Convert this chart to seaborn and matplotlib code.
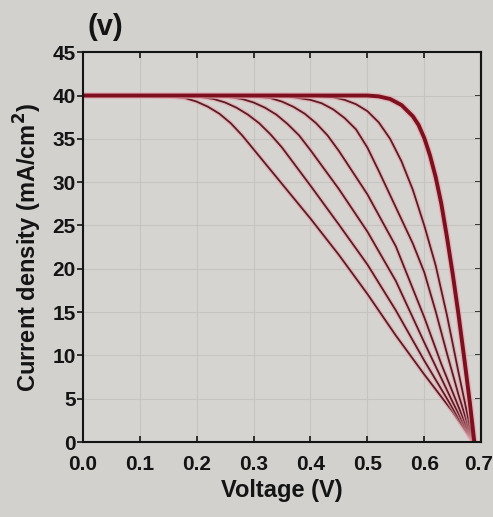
import numpy as np
import pandas as pd
import matplotlib
matplotlib.use("Agg")
import matplotlib.pyplot as plt
import matplotlib.patheffects as pe
import matplotlib.transforms as mtransforms
import seaborn as sns

# =========================
# DATOS
# =========================
v1 = [0, 0.1, 0.15, 0.18, 0.2, 0.22, 0.24, 0.26, 0.28, 0.30, 0.35, 0.40, 0.45, 0.50, 0.55, 0.60, 0.65, 0.686]
j1 = [40, 40, 39.9, 39.7, 39.3, 38.7, 37.9, 36.8, 35.4, 33.8, 29.8, 25.8, 21.6, 17.1, 12.3, 7.8, 3.5, 0]

v2 = [0, 0.1, 0.2, 0.23, 0.25, 0.27, 0.29, 0.31, 0.33, 0.35, 0.40, 0.45, 0.50, 0.55, 0.60, 0.65, 0.686]
j2 = [40, 40, 39.9, 39.6, 39.2, 38.6, 37.8, 36.8, 35.5, 34.0, 29.6, 25.1, 20.5, 15.2, 9.4, 3.9, 0]

v3 = [0, 0.1, 0.2, 0.25, 0.28, 0.30, 0.32, 0.34, 0.36, 0.38, 0.40, 0.45, 0.50, 0.55, 0.60, 0.65, 0.686]
j3 = [40, 40, 40, 39.9, 39.6, 39.2, 38.6, 37.8, 36.7, 35.4, 33.7, 29.2, 24.3, 18.6, 11.5, 4.6, 0]

v4 = [0, 0.1, 0.2, 0.3, 0.33, 0.35, 0.37, 0.39, 0.41, 0.43, 0.45, 0.50, 0.55, 0.60, 0.63, 0.66, 0.686]
j4 = [40, 40, 40, 39.9, 39.7, 39.3, 38.7, 37.9, 36.8, 35.4, 33.6, 28.6, 22.6, 14.4, 9.0, 4.1, 0]

v5 = [0, 0.1, 0.2, 0.3, 0.36, 0.40, 0.42, 0.44, 0.46, 0.48, 0.50, 0.52, 0.55, 0.58, 0.60, 0.62, 0.64, 0.66, 0.686]
j5 = [40, 40, 40, 40, 39.9, 39.5, 39.1, 38.4, 37.4, 36.1, 34.0, 31.3, 27.1, 22.9, 19.6, 15.1, 10.2, 5.5, 0]

v6 = [0, 0.1, 0.2, 0.3, 0.4, 0.44, 0.46, 0.48, 0.50, 0.52, 0.54, 0.56, 0.58, 0.60, 0.62, 0.64, 0.66, 0.686]
j6 = [40, 40, 40, 40, 40, 39.8, 39.5, 39.0, 38.2, 36.9, 35.0, 32.4, 29.1, 25.0, 20.4, 14.6, 8.1, 0]

v7 = [0, 0.1, 0.2, 0.3, 0.4, 0.5, 0.52, 0.54, 0.56, 0.58, 0.59, 0.60, 0.61, 0.62, 0.63, 0.64, 0.65, 0.66, 0.67, 0.68, 0.688]
j7 = [40, 40, 40, 40, 40, 40, 39.9, 39.6, 38.9, 37.6, 36.6, 35.1, 33.1, 30.6, 27.5, 23.6, 19.4, 14.8, 9.8, 4.6, 0]

curvas = [(v1, j1), (v2, j2), (v3, j3), (v4, j4), (v5, j5), (v6, j6), (v7, j7)]

x_ticks = [0.0, 0.1, 0.2, 0.3, 0.4, 0.5, 0.6, 0.7]
x_labels = ["0.0", "0.1", "0.2", "0.3", "0.4", "0.5", "0.6", "0.7"]
y_ticks = [0, 5, 10, 15, 20, 25, 30, 35, 40, 45]

# tabla larga
filas = []
for k, (vv, jj) in enumerate(curvas):
    for v, j in zip(vv, jj):
        filas.append({"curva": k, "V": v, "J": j})
df = pd.DataFrame(filas)

# =========================
# ESTILO
# =========================
sns.set_style("ticks")
plt.rcParams["font.family"] = ["Liberation Sans", "DejaVu Sans"]
plt.rcParams["font.weight"] = "bold"
plt.rcParams["text.color"] = "#141414"
plt.rcParams["axes.labelcolor"] = "#141414"
plt.rcParams["xtick.color"] = "#141414"
plt.rcParams["ytick.color"] = "#141414"

fondo = "#d3d1cd"
fig = plt.figure(figsize=(4.93, 5.17), dpi=100, facecolor=fondo)
ax = fig.add_axes([0.168, 0.145, 0.808, 0.754])
ax.set_facecolor("#d6d4d0")

halo = "#e3a3ab"
for k in range(len(curvas)):
    sub = df[df["curva"] == k]
    grueso = (k == len(curvas) - 1)
    lw = 2.8 if grueso else 1.3
    color = "#7e0f1e" if grueso else "#5e1a24"
    sns.lineplot(
        data=sub, x="V", y="J", ax=ax, sort=False, estimator=None,
        color=color, linewidth=lw, legend=False,
        path_effects=[pe.Stroke(linewidth=lw + 2.0, foreground=halo, alpha=0.6), pe.Normal()]
    )

ax.set_xlim(0, 0.7)
ax.set_ylim(0, 45)
ax.set_xticks(x_ticks)
ax.set_xticklabels(x_labels)
ax.set_yticks(y_ticks)
ax.grid(True, color="#c6c4c0", linewidth=0.8)
ax.set_axisbelow(True)

for s in ax.spines.values():
    s.set_linewidth(1.5)
    s.set_color("#141414")

ax.tick_params(axis="x", direction="in", top=True, length=4, width=1.2, pad=9, labelsize=15)
ax.tick_params(axis="y", direction="out", length=4, width=1.2, pad=1, labelsize=15)
sec = ax.secondary_yaxis("right")
sec.set_yticks(y_ticks)
sec.tick_params(direction="in", length=4, width=1.2, labelright=False)
sec.spines["right"].set_linewidth(1.5)

# la ultima etiqueta queda pegada al borde, se mueve un poco
ult = ax.get_xticklabels()[-1]
ult.set_transform(ult.get_transform() + mtransforms.ScaledTranslation(-3 / 100, 0, fig.dpi_scale_trans))

ax.set_xlabel("Voltage (V)", fontsize=17, fontweight="bold", labelpad=4)
ax.set_ylabel("Current density (mA/cm$^\\mathbf{2}$)", fontsize=17, fontweight="bold", labelpad=6)

fig.text(0.178, 0.948, "(v)", fontsize=21, fontweight="bold", va="center", ha="left")

plt.savefig("out.png", dpi=100, facecolor=fondo)
